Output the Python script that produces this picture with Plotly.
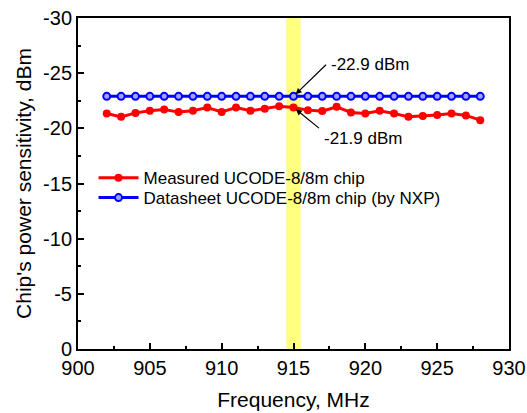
import plotly.graph_objects as go

freq = list(range(902, 929))
measured = [-21.35, -21.04, -21.40, -21.59, -21.71, -21.47, -21.59, -21.89, -21.49,
            -21.89, -21.59, -21.77, -22.01, -21.89, -21.65, -21.56, -21.95, -21.44,
            -21.35, -21.59, -21.35, -21.04, -21.11, -21.20, -21.35, -21.17, -20.74]
datasheet = [-22.9] * len(freq)
band = [914.5, 915.5]
ann_freq = 915
ann_datasheet = -22.9
ann_measured = -21.9
x_ticks = [900, 905, 910, 915, 920, 925, 930]
y_ticks = [0, -5, -10, -15, -20, -25, -30]
y_ticktext = ["0", "-5", "-10", "-15", "-20", "-25", "-30"]

FONT = "Liberation Sans, Arial, sans-serif"

fig = go.Figure()
fig.add_vrect(x0=band[0], x1=band[1], fillcolor="#ffff80", opacity=1, line_width=0, layer="below")

fig.add_trace(go.Scatter(x=freq, y=measured, mode="lines+markers",
                         name="Measured UCODE-8/8m chip", legend="legend", showlegend=True,
                         line=dict(color="#ff0000", width=3),
                         marker=dict(color="#ff0000", size=8, symbol="circle")))
fig.add_trace(go.Scatter(x=freq, y=datasheet, mode="lines+markers",
                         name="Datasheet UCODE-8/8m chip (by NXP)", legend="legend2", showlegend=True,
                         line=dict(color="#0000ff", width=3),
                         marker=dict(color="#a0a0ff", size=7, symbol="circle",
                                     line=dict(color="#0000ff", width=2))))

tf = dict(family=FONT, size=17, color="black")
# arrows
fig.add_annotation(x=ann_freq, y=ann_datasheet, text="", showarrow=True, arrowhead=2,
                   arrowsize=1, arrowwidth=1.2, arrowcolor="black", ax=34, ay=-33, standoff=3)
fig.add_annotation(x=ann_freq, y=ann_measured, text="", showarrow=True, arrowhead=2,
                   arrowsize=1, arrowwidth=1.2, arrowcolor="black", ax=27, ay=22, standoff=3)
# labels
fig.add_annotation(x=ann_freq, y=ann_datasheet, text=f"{ann_datasheet} dBm", showarrow=False,
                   xanchor="left", yanchor="middle", xshift=35, yshift=32, font=tf)
fig.add_annotation(x=ann_freq, y=ann_measured, text=f"{ann_measured} dBm", showarrow=False,
                   xanchor="left", yanchor="middle", xshift=28, yshift=-31, font=tf)

axis_common = dict(showline=True, linecolor="black", linewidth=2, mirror=True,
                   showgrid=False, zeroline=False, ticks="inside", ticklen=6, tickwidth=1.5,
                   tickcolor="black", tickfont=dict(family=FONT, size=20, color="black"),
                   automargin=False)

fig.update_xaxes(range=[900, 930], tickvals=x_ticks, ticktext=[str(v) for v in x_ticks],
                 minor=dict(dtick=2.5, tick0=900, ticks="inside", ticklen=3, tickcolor="black", tickwidth=1.5),
                 title=dict(text="Frequency, MHz", font=dict(family=FONT, size=21, color="black"),
                            standoff=14),
                 **axis_common)
fig.update_yaxes(range=[0, -30], tickvals=y_ticks, ticktext=y_ticktext,
                 minor=dict(dtick=2.5, tick0=0, ticks="inside", ticklen=3, tickcolor="black", tickwidth=1.5),
                 title=dict(text="Chip's power sensitivity, dBm", font=dict(family=FONT, size=21, color="black"),
                            standoff=6),
                 **axis_common)

leg_common = dict(xanchor="left", yanchor="middle", bgcolor="rgba(0,0,0,0)", font=tf, itemwidth=40,
                  visible=True)
fig.update_layout(width=527, height=413, margin=dict(l=78, r=18, t=18, b=64),
                  plot_bgcolor="white", paper_bgcolor="white", showlegend=True,
                  font=dict(family=FONT, color="black"),
                  legend=dict(x=0.036, y=0.516, **leg_common),
                  legend2=dict(x=0.036, y=0.456, **leg_common))

fig.write_html("out.html")
